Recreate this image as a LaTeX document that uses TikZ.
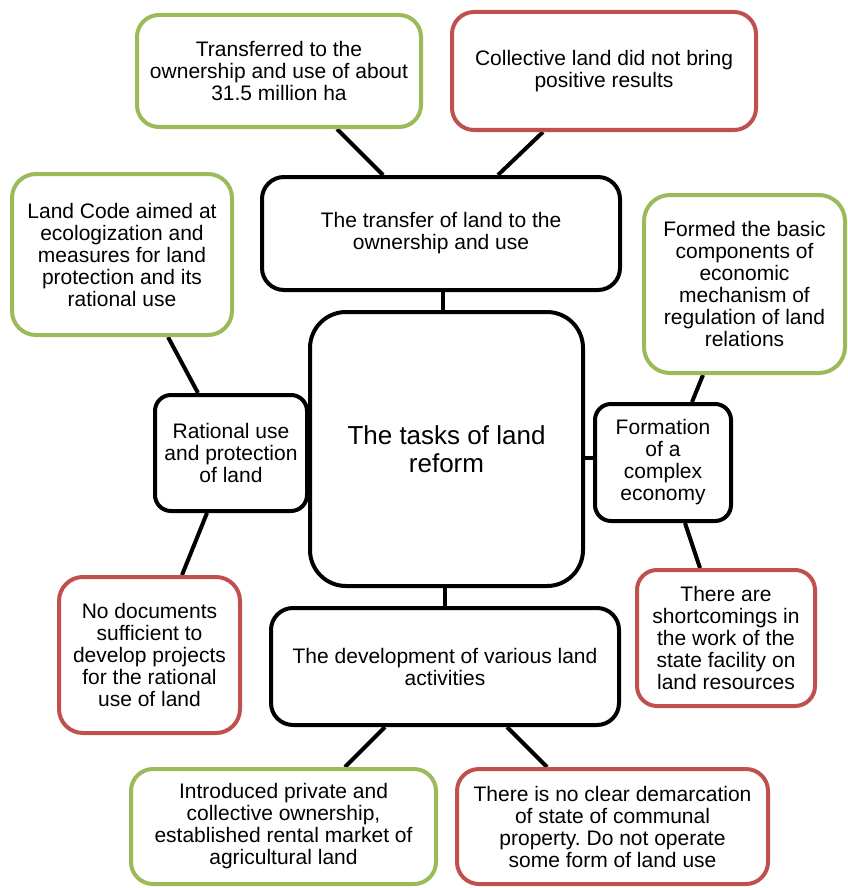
\documentclass[tikz,border=0pt]{standalone}
\usepackage{fontspec}
\setmainfont{Liberation Sans}
\usetikzlibrary{backgrounds}
\frenchspacing
\definecolor{gfr}{HTML}{9BBB59}
\definecolor{rfr}{HTML}{C0504D}
\tikzset{
  base/.style={draw, line width=4pt, fill=white, align=center, inner sep=0pt,
    font=\fontsize{21}{22}\selectfont, rounded corners=22pt},
  greenbox/.style={base, draw=gfr},
  redbox/.style={base, draw=rfr},
  blackbox/.style={base, draw=black},
  link/.style={draw=black, line width=4pt},
}
\begin{document}
\begin{tikzpicture}[x=1pt,y=-1pt]
\useasboundingbox (0,0) rectangle (847,888);
% nodes
\node[greenbox, minimum width=284, minimum height=112] (trans) at (279,71)
  {Transferred to the\\ownership and use of about\\31.5 million ha};
\node[redbox, minimum width=304, minimum height=118] (coll) at (604,71)
  {Collective land did not bring\\positive results};
\node[blackbox, minimum width=358, minimum height=113] (topb) at (441,233.5)
  {The transfer of land to the\\ownership and use};
\node[greenbox, minimum width=220, minimum height=161, rounded corners=24pt] (code) at (122,254.5)
  {Land Code aimed at\\ecologization and\\measures for land\\protection and its\\rational use};
\node[greenbox, minimum width=201, minimum height=178, rounded corners=26pt] (formed) at (744.5,284)
  {Formed the basic\\components of\\economic\\mechanism of\\regulation of land\\relations};
\node[blackbox, minimum width=273, minimum height=274, rounded corners=36pt,
  font=\fontsize{26}{28.5}\selectfont] (center) at (446.5,449)
  {The tasks of land\\reform};
\node[blackbox, minimum width=152, minimum height=116, rounded corners=16pt] (ratio) at (231,453)
  {Rational use\\and protection\\of land};
\node[blackbox, minimum width=136, minimum height=117, rounded corners=16pt] (formation) at (663,462.5)
  {Formation\\of a\\complex\\economy};
\node[redbox, minimum width=181, minimum height=156, rounded corners=24pt] (nodoc) at (149.5,655)
  {No documents\\sufficient to\\develop projects\\for the rational\\use of land};
\node[redbox, minimum width=178, minimum height=136, rounded corners=20pt] (short) at (726,638)
  {There are\\shortcomings in\\the work of the\\state facility on\\land resources};
\node[blackbox, minimum width=348, minimum height=117] (botb) at (445,666.5)
  {The development of various land\\activities};
\node[greenbox, minimum width=305, minimum height=115] (intro) at (283.5,826.5)
  {Introduced private and\\collective ownership,\\established rental market of\\agricultural land};
\node[redbox, minimum width=311, minimum height=115] (nodem) at (612.5,826.5)
  {There is no clear demarcation\\of state of communal\\property. Do not operate\\some form of land use};
% connectors
\begin{scope}[on background layer]
  \draw[link] (trans.south -| 337,0) -- (topb.north -| 383,0);
  \draw[link] (coll.south -| 543,0) -- (topb.north -| 498,0);
  \draw[link] (topb.south -| 443,0) -- (center.north -| 443,0);
  \draw[link] (code.south -| 168,0) -- (ratio.north -| 198,0);
  \draw[link] (ratio.south -| 207,0) -- (nodoc.north -| 182,0);
  \draw[link] (center.east |- 0,458) -- (formation.west |- 0,458);
  \draw[link] (formed.south -| 703,0) -- (formation.north -| 692,0);
  \draw[link] (formation.south -| 685,0) -- (short.north -| 700,0);
  \draw[link] (center.south -| 445,0) -- (botb.north -| 445,0);
  \draw[link] (botb.south -| 385,0) -- (intro.north -| 345,0);
  \draw[link] (botb.south -| 507,0) -- (nodem.north -| 547,0);
\end{scope}
\end{tikzpicture}
\end{document}
